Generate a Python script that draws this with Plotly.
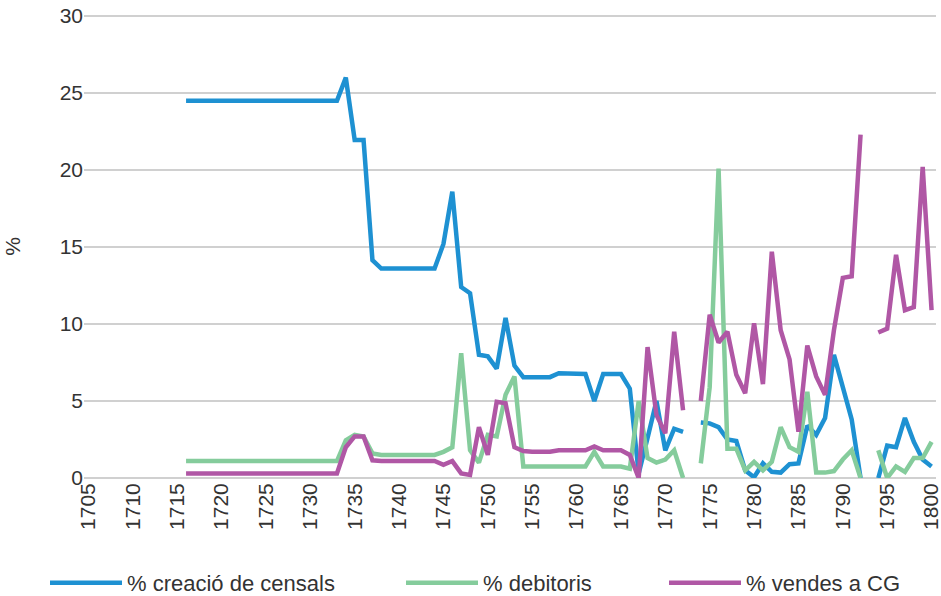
import plotly.graph_objects as go

years = list(range(1705, 1801))

creacio = ([None] * 11 + [24.5] * 18 +
           [26.0, 21.95, 21.95, 14.15] + [13.6] * 7 +
           [15.2, 18.6, 12.4, 12.0, 8.0, 7.9, 7.1, 10.4, 7.3,
            6.55, 6.55, 6.55, 6.55, 6.8, 6.8, 6.8, 6.75, 5.0, 6.75, 6.75, 6.75, 5.8,
            0.3, 2.6, 5.0, 1.8, 3.2, 3.0, None,
            3.6, 3.55, 3.3, 2.5, 2.4, 0.5, 0.05, 0.95, 0.4, 0.35, 0.9, 0.95,
            3.4, 2.8, 3.9, 8.0, 5.9, 3.8, 0.0, None,
            0.0, 2.1, 2.0, 3.9, 2.35, 1.2, 0.75])

debitoris = ([None] * 11 + [1.1] * 18 +
             [2.45, 2.8, 2.7, 1.6] + [1.5] * 7 +
             [1.7, 2.0, 8.1, 1.8, 1.0, 2.8, 2.7, 5.4, 6.6] + [0.75] * 8 +
             [1.7, 0.75, 0.75, 0.75, 0.6,
              5.0, 1.3, 1.0, 1.2, 1.8, 0.0, None,
              0.95, 5.9, 20.1, 1.9, 1.9, 0.5, 1.05, 0.5, 1.05, 3.3, 2.0, 1.7,
              5.6, 0.35, 0.35, 0.45, 1.2, 1.8, 0.0, None,
              1.8, 0.0, 0.75, 0.4, 1.3, 1.3, 2.35])

vendes = ([None] * 11 + [0.3] * 18 +
          [2.0, 2.7, 2.7, 1.15] + [1.1] * 7 +
          [0.85, 1.1, 0.3, 0.2, 3.3, 1.5, 4.95, 4.85, 2.0,
           1.75, 1.7, 1.7, 1.7, 1.8, 1.8, 1.8, 1.8, 2.05, 1.8, 1.8, 1.8, 1.5,
           0.0, 8.5, 4.1, 2.9, 9.5, 4.4, None,
           5.0, 10.6, 8.8, 9.5, 6.7, 5.5, 10.05, 6.1, 14.7, 9.6, 7.7, 3.0,
           8.6, 6.6, 5.4, 9.6, 13.0, 13.1, 22.3, None,
           9.45, 9.7, 14.5, 10.9, 11.1, 20.2, 10.9])

series_names = ["% creació de censals", "% debitoris", "% vendes a CG"]
colors = ["#1E91D2", "#85CC9C", "#B057A5"]
tick_years = list(range(1705, 1801, 5))
y_ticks = [0, 5, 10, 15, 20, 25, 30]

font_family = "Liberation Sans, Arial, sans-serif"
text_color = "#333333"

fig = go.Figure()
legends = ["legend", "legend2", "legend3"]
for name, vals, col, lg in zip(series_names, [creacio, debitoris, vendes], colors, legends):
    fig.add_trace(go.Scatter(x=years, y=vals, mode="lines", name=name,
                             line=dict(color=col, width=4.5), connectgaps=False,
                             legend=lg, showlegend=True))

W, H = 941, 596
PLOT_L, PLOT_R, PLOT_T, PLOT_B = 84, 936, 15, 478   # plot area in page pixels
ml, mt = PLOT_L, PLOT_T
mr, mb = W - PLOT_R, H - PLOT_B
pw = PLOT_R - PLOT_L
ph = PLOT_B - PLOT_T

def px_x(p):
    return (p - PLOT_L) / pw

def px_y(p):
    return (PLOT_B - p) / ph

leg_common = dict(orientation="h", xanchor="left", yanchor="middle",
                  font=dict(size=22, color=text_color, family=font_family),
                  bgcolor="rgba(0,0,0,0)", itemwidth=72)

fig.update_layout(
    width=W, height=H,
    margin=dict(l=ml, r=mr, t=mt, b=mb, autoexpand=False),
    paper_bgcolor="white", plot_bgcolor="white",
    showlegend=True,
    font=dict(family=font_family, size=21, color=text_color),
    xaxis=dict(range=[1704.5, 1800.5], tickmode="array", tickvals=tick_years,
               ticktext=[str(y) for y in tick_years], tickangle=-90,
               showgrid=False, zeroline=False, showline=False, ticks="",
               automargin=False, ticklabeloverflow="allow",
               tickfont=dict(size=21, color=text_color)),
    yaxis=dict(range=[0, 30.07], tickmode="array", tickvals=y_ticks,
               showgrid=True, gridcolor="#D0D0D0",
               gridwidth=1.5, zeroline=True, zerolinecolor="#D0D0D0",
               zerolinewidth=1.5, ticks="", automargin=False, ticklabeloverflow="allow",
               tickfont=dict(size=21, color=text_color),
               title=dict(text="%", font=dict(size=21, color=text_color), standoff=33)),
    legend=dict(x=px_x(45), y=px_y(583), **leg_common),
    legend2=dict(x=px_x(401), y=px_y(583), **leg_common),
    legend3=dict(x=px_x(664), y=px_y(583), **leg_common),
)

fig.write_html("out.html", config={"displayModeBar": False},
               post_script="document.body.style.margin='0';document.body.style.overflow='hidden';")
